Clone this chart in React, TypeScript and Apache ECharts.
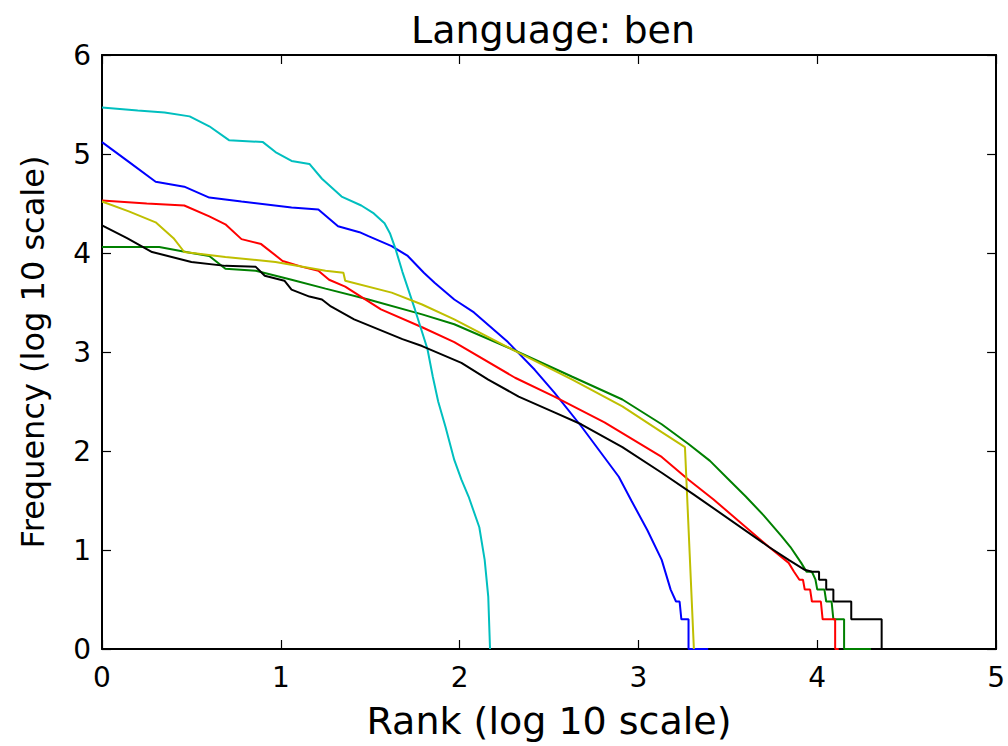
import React, { useEffect, useRef } from "react";
import * as echarts from "echarts";

const TITLE = "Language: ben";
const X_LABEL = "Rank (log 10 scale)";
const Y_LABEL = "Frequency (log 10 scale)";

// [log10 rank, log10 frequency]
const blueSeries: [number, number][] = [
  [0, 5.12], [0.15, 4.92], [0.3, 4.72], [0.46, 4.67], [0.6, 4.56], [0.78, 4.52],
  [1.06, 4.46], [1.21, 4.44], [1.32, 4.27], [1.44, 4.21], [1.49, 4.17], [1.62, 4.07],
  [1.71, 3.97], [1.8, 3.8], [1.86, 3.7], [1.97, 3.53], [2.08, 3.4], [2.27, 3.1],
  [2.42, 2.82], [2.53, 2.59], [2.68, 2.25], [2.89, 1.74], [2.96, 1.5], [3.05, 1.2],
  [3.13, 0.9], [3.18, 0.6], [3.21, 0.48], [3.23, 0.48], [3.24, 0.3], [3.28, 0.3],
  [3.28, 0], [3.39, 0],
];
const greenSeries: [number, number][] = [
  [0, 4.06], [0.32, 4.06], [0.5, 4.0], [0.6, 3.97], [0.69, 3.84], [0.86, 3.82],
  [1.06, 3.73], [1.25, 3.64], [1.49, 3.53], [1.79, 3.38], [1.97, 3.28], [2.29, 3.03],
  [2.63, 2.75], [2.91, 2.52], [3.13, 2.27], [3.28, 2.07], [3.4, 1.9], [3.5, 1.72],
  [3.6, 1.54], [3.7, 1.35], [3.8, 1.14], [3.85, 1.03], [3.91, 0.87], [3.94, 0.78],
  [3.97, 0.78], [3.99, 0.7], [4.0, 0.6], [4.04, 0.6], [4.05, 0.48], [4.08, 0.48],
  [4.09, 0.3], [4.15, 0.3], [4.15, 0], [4.3, 0],
];
const redSeries: [number, number][] = [
  [0, 4.53], [0.25, 4.5], [0.46, 4.48], [0.6, 4.37], [0.69, 4.29], [0.78, 4.14],
  [0.89, 4.09], [1.01, 3.92], [1.12, 3.86], [1.21, 3.82], [1.27, 3.73], [1.36, 3.66],
  [1.56, 3.43], [1.79, 3.25], [1.97, 3.1], [2.31, 2.74], [2.53, 2.55], [2.81, 2.29],
  [3.13, 1.94], [3.28, 1.71], [3.42, 1.51], [3.73, 1.03], [3.84, 0.87], [3.87, 0.78],
  [3.9, 0.7], [3.92, 0.7], [3.93, 0.6], [3.96, 0.6], [3.97, 0.48], [4.02, 0.48],
  [4.03, 0.3], [4.1, 0.3], [4.1, 0], [4.12, 0],
];
const cyanSeries: [number, number][] = [
  [0, 5.47], [0.2, 5.44], [0.35, 5.42], [0.49, 5.38], [0.6, 5.28], [0.71, 5.14],
  [0.9, 5.12], [0.97, 5.02], [1.06, 4.93], [1.16, 4.9], [1.23, 4.75], [1.34, 4.57],
  [1.45, 4.48], [1.52, 4.4], [1.58, 4.3], [1.61, 4.2], [1.64, 4.05], [1.68, 3.81],
  [1.75, 3.43], [1.82, 3.03], [1.85, 2.75], [1.88, 2.5], [1.92, 2.25], [1.97, 1.91],
  [2.01, 1.71], [2.05, 1.54], [2.11, 1.23], [2.14, 0.9], [2.16, 0.53], [2.17, 0],
];
const yellowSeries: [number, number][] = [
  [0, 4.52], [0.15, 4.42], [0.3, 4.31], [0.4, 4.15], [0.46, 4.01], [0.69, 3.96],
  [0.97, 3.91], [1.25, 3.82], [1.35, 3.8], [1.36, 3.72], [1.62, 3.6], [1.79, 3.48],
  [1.97, 3.33], [2.29, 3.03], [2.63, 2.72], [2.91, 2.45], [3.13, 2.19], [3.26, 2.04],
  [3.31, 0],
];
const blackSeries: [number, number][] = [
  [0, 4.28], [0.14, 4.15], [0.28, 4.01], [0.5, 3.91], [0.69, 3.87], [0.86, 3.86],
  [0.91, 3.77], [1.02, 3.72], [1.06, 3.63], [1.16, 3.56], [1.23, 3.53], [1.28, 3.46],
  [1.41, 3.33], [1.68, 3.13], [1.79, 3.06], [2.01, 2.89], [2.16, 2.72], [2.33, 2.55],
  [2.53, 2.39], [2.68, 2.27], [2.91, 2.04], [3.13, 1.78], [3.31, 1.56], [3.73, 1.03],
  [3.84, 0.9], [3.93, 0.8], [3.97, 0.78], [4.01, 0.78], [4.01, 0.7], [4.05, 0.7],
  [4.05, 0.6], [4.09, 0.6], [4.09, 0.48], [4.19, 0.48], [4.19, 0.3], [4.36, 0.3],
  [4.36, 0], [4.7, 0],
];

const SERIES = [
  { name: "b", color: "#0000ff", data: blueSeries },
  { name: "g", color: "#008000", data: greenSeries },
  { name: "r", color: "#ff0000", data: redSeries },
  { name: "c", color: "#00bfbf", data: cyanSeries },
  { name: "y", color: "#bfbf00", data: yellowSeries },
  { name: "k", color: "#000000", data: blackSeries },
];

const FONT = "DejaVu Sans";

export default function App() {
  const ref = useRef<HTMLDivElement>(null);
  useEffect(() => {
    if (!ref.current) return;
    const chart = echarts.init(ref.current, undefined, { renderer: "svg" });
    const axisLine = { show: true, onZero: false, lineStyle: { color: "#000", width: 2 } };
    const tick = { show: true, inside: true, length: 9, lineStyle: { color: "#000", width: 1.2 } };
    chart.setOption({
      animation: false,
      backgroundColor: "#fff",
      title: {
        text: TITLE,
        left: 548,
        textAlign: "center",
        top: 6,
        textStyle: { fontFamily: FONT, fontSize: 38, fontWeight: "normal", color: "#000" },
      },
      grid: { left: 102, right: 11, top: 55, bottom: 97 },
      xAxis: [
        {
          type: "value", min: 0, max: 5, interval: 1, position: "bottom",
          name: X_LABEL, nameLocation: "middle", nameGap: 53,
          nameTextStyle: { fontFamily: FONT, fontSize: 38, color: "#000" },
          axisLine, axisTick: tick, splitLine: { show: false },
          axisLabel: { fontFamily: FONT, fontSize: 28, color: "#000", margin: 14 },
        },
        {
          type: "value", min: 0, max: 5, interval: 1, position: "top",
          axisLine, axisTick: tick, splitLine: { show: false }, axisLabel: { show: false },
        },
      ],
      yAxis: [
        {
          type: "value", min: 0, max: 6, interval: 1, position: "left",
          name: Y_LABEL, nameLocation: "middle", nameGap: 53,
          nameTextStyle: { fontFamily: FONT, fontSize: 32, color: "#000" },
          axisLine, axisTick: tick, splitLine: { show: false },
          axisLabel: { fontFamily: FONT, fontSize: 28, color: "#000", margin: 11 },
        },
        {
          type: "value", min: 0, max: 6, interval: 1, position: "right",
          axisLine, axisTick: tick, splitLine: { show: false }, axisLabel: { show: false },
        },
      ],
      series: SERIES.map((s) => ({
        type: "line",
        name: s.name,
        data: s.data,
        xAxisIndex: 0,
        yAxisIndex: 0,
        showSymbol: false,
        symbol: "none",
        lineStyle: { color: s.color, width: 2 },
        itemStyle: { color: s.color },
        clip: true,
      })),
    });
    return () => chart.dispose();
  }, []);
  return (
    <div
      ref={ref}
      style={{ position: "absolute", left: 0, top: 0, width: 1008, height: 746, background: "#fff" }}
    />
  );
}
